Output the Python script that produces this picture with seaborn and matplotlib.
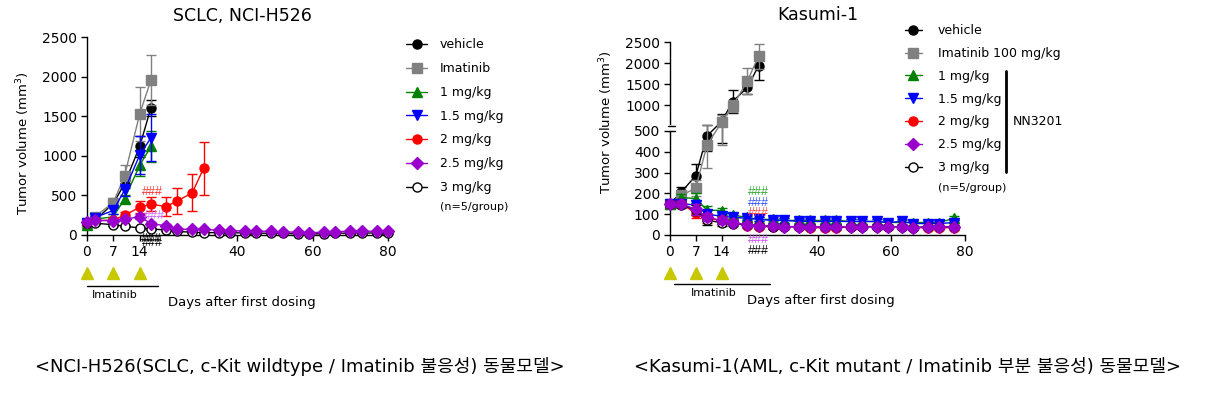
import numpy as np
import pandas as pd
import seaborn as sns
import matplotlib.pyplot as plt
from matplotlib.lines import Line2D

# ---- data ----
groups = ['vehicle', 'Imatinib', '1 mg/kg', '1.5 mg/kg', '2 mg/kg', '2.5 mg/kg', '3 mg/kg']
colors = ['black', '#808080', '#008000', '#0000ff', '#ff0000', '#9900cc', 'black']
markers = ['o', 's', '^', 'v', 'o', 'D', 'o']

# left panel: SCLC, NCI-H526
h526_days_short = [0, 2, 7, 10, 14, 17]
h526_days_red = [0, 2, 7, 10, 14, 17, 21, 24, 28, 31]
h526_days_long = [0, 2, 7, 10, 14, 17, 21, 24, 28, 31, 35, 38, 42, 45, 49, 52, 56, 59, 63, 66, 70, 73, 77, 80]
h526_vehicle = [150, 180, 400, 650, 1120, 1610]
h526_vehicle_err = [20, 20, 40, 60, 130, 100]
h526_imatinib = [150, 230, 410, 750, 1530, 1960]
h526_imatinib_err = [20, 30, 60, 140, 340, 310]
h526_1mg = [130, 200, 230, 460, 880, 1120]
h526_1mg_err = [20, 20, 30, 50, 130, 200]
h526_15mg = [150, 220, 310, 570, 1010, 1230]
h526_15mg_err = [20, 20, 40, 80, 240, 300]
h526_2mg = [150, 180, 190, 250, 350, 390, 360, 430, 535, 845]
h526_2mg_err = [20, 20, 30, 40, 75, 90, 125, 170, 233, 337]
h526_25mg = [160, 185, 180, 200, 230, 145, 115, 75, 70, 70, 60, 55, 50, 50, 45, 40, 35, 30, 35, 40, 50, 50, 45, 50]
h526_25mg_err = [15, 15, 20, 20, 30, 25, 20, 15, 10, 10, 10, 10, 10, 10, 10, 10, 10, 10, 10, 10, 10, 10, 10, 10]
h526_3mg = [150, 150, 130, 110, 90, 75, 65, 45, 35, 30, 30, 30, 25, 25, 20, 20, 15, 15, 15, 20, 25, 25, 25, 25]
h526_3mg_err = [15, 15, 15, 15, 15, 10, 10, 10, 10, 10, 10, 10, 10, 10, 10, 10, 10, 10, 10, 10, 10, 10, 10, 10]

# right panel: Kasumi-1
kas_days_short = [0, 3, 7, 10, 14, 17, 21, 24]
kas_days_long = [0, 3, 7, 10, 14, 17, 21, 24, 28, 31, 35, 38, 42, 45, 49, 52, 56, 59, 63, 66, 70, 73, 77]
kas_vehicle = [150, 205, 285, 475, 620, 1090, 1430, 1940]
kas_vehicle_err = [15, 25, 55, 70, 180, 270, 150, 330]
kas_imatinib = [150, 190, 225, 430, 600, 990, 1580, 2170]
kas_imatinib_err = [15, 20, 40, 110, 170, 150, 300, 300]
kas_1mg = [150, 180, 175, 120, 117, 95, 85, 75, 75, 70, 70, 70, 70, 70, 65, 65, 65, 60, 60, 60, 60, 60, 80]
kas_15mg = [150, 150, 144, 100, 90, 85, 80, 75, 70, 70, 65, 65, 65, 65, 65, 65, 65, 60, 65, 55, 55, 55, 60]
kas_2mg = [150, 150, 105, 80, 70, 60, 45, 40, 40, 40, 40, 35, 35, 35, 40, 40, 40, 40, 40, 35, 35, 35, 35]
kas_25mg = [150, 150, 123, 85, 70, 60, 50, 45, 45, 40, 40, 40, 40, 40, 40, 40, 40, 40, 40, 35, 40, 40, 40]
kas_3mg = [150, 145, 120, 70, 60, 55, 50, 45, 40, 40, 40, 40, 40, 40, 40, 40, 40, 40, 40, 35, 40, 40, 40]
kas_low_err = [15, 15, 25, 20, 15, 12, 10, 10, 10, 10, 10, 10, 10, 10, 10, 10, 10, 10, 10, 10, 10, 10, 10]

dose_days = [0, 7, 14]
h526_imatinib_span = [0, 19]
kas_imatinib_span = [1, 27]

caption_left = '<NCI-H526(SCLC, c-Kit wildtype / Imatinib 불응성) 동물모델>'
caption_right = '<Kasumi-1(AML, c-Kit mutant / Imatinib 부분 불응성) 동물모델>'

sns.set_style('ticks')
plt.rcParams['font.family'] = ['DejaVu Sans', 'Noto Sans CJK KR']
plt.rcParams['mathtext.fontset'] = 'dejavusans'
plt.rcParams['text.color'] = 'black'
plt.rcParams['axes.labelcolor'] = 'black'
plt.rcParams['xtick.color'] = 'black'
plt.rcParams['ytick.color'] = 'black'
plt.rcParams['axes.edgecolor'] = 'black'

fig = plt.figure(figsize=(12.1, 3.95), dpi=100)
W, H = 1210.0, 395.0
ax1 = fig.add_axes([87 / W, 1 - 235 / H, 301 / W, 197.7 / H])
ax2 = fig.add_axes([670 / W, 1 - 235 / H, 295 / W, 192.7 / H])
hash_font = ['Liberation Sans', 'DejaVu Sans']


def draw_series(ax, days, vals, errs, i):
    face = 'white' if groups[i] == '3 mg/kg' else colors[i]
    z = 3 + [0, 0.1, 0.2, 0.3, 0.4, 0.6, 0.5][i]
    ax.errorbar(days, vals, yerr=errs, fmt='none', ecolor=colors[i], elinewidth=1,
                capsize=3.5, capthick=1, clip_on=False, zorder=z)
    sns.lineplot(x=days, y=vals, ax=ax, color=colors[i], marker=markers[i], markersize=6.5,
                 markerfacecolor=face, markeredgecolor=colors[i], markeredgewidth=1,
                 linewidth=1, clip_on=False, zorder=z)


# ---- left panel ----
left_sets = [(h526_days_short, h526_vehicle, h526_vehicle_err),
             (h526_days_short, h526_imatinib, h526_imatinib_err),
             (h526_days_short, h526_1mg, h526_1mg_err),
             (h526_days_short, h526_15mg, h526_15mg_err),
             (h526_days_red, h526_2mg, h526_2mg_err),
             (h526_days_long, h526_25mg, h526_25mg_err),
             (h526_days_long, h526_3mg, h526_3mg_err)]
for i, (d, v, e) in enumerate(left_sets):
    draw_series(ax1, d, v, e, i)
ax1.set_xlim(0, 80)
ax1.set_ylim(0, 2500)
ax1.set_yticks([0, 500, 1000, 1500, 2000, 2500])
ax1.set_xticks([0, 7, 14, 40, 60, 80])

ax1.text(17.5, 545, '###', color='#ff3333', fontsize=9, family=hash_font,
         ha='center', va='center', zorder=10)
ax1.text(17.8, 245, '###', color='#cc66ff', fontsize=9, family=hash_font,
         ha='center', va='center', zorder=10)
ax1.text(17.2, -45, '###', color='black', fontsize=9, family=hash_font, ha='center', va='center')
ax1.text(17.4, -95, '###', color='black', fontsize=9, family=hash_font, ha='center', va='center')

# ---- right panel (broken y axis) ----
def fwd(y):
    y = np.asarray(y, float)
    return np.where(y <= 500, y, 521 + (y - 500) * 0.202)


def inv(t):
    t = np.asarray(t, float)
    return np.where(t <= 500, t, np.where(t < 521, 500, 500 + (t - 521) / 0.202))


right_sets = [(kas_days_short, kas_vehicle, kas_vehicle_err),
              (kas_days_short, kas_imatinib, kas_imatinib_err),
              (kas_days_long, kas_1mg, kas_low_err),
              (kas_days_long, kas_15mg, kas_low_err),
              (kas_days_long, kas_2mg, kas_low_err),
              (kas_days_long, kas_25mg, kas_low_err),
              (kas_days_long, kas_3mg, kas_low_err)]
ax2.set_yscale('function', functions=(fwd, inv))
for i, (d, v, e) in enumerate(right_sets):
    draw_series(ax2, d, v, e, i)
ax2.set_yscale('function', functions=(fwd, inv))
ax2.set_xlim(0, 80)
ax2.set_ylim(0, 2500)
ax2.set_yticks([0, 100, 200, 300, 400, 500, 1000, 1500, 2000, 2500])
ax2.set_xticks([0, 7, 14, 40, 60, 80])

lo = 500 / fwd(2500)
hi = 521 / fwd(2500)
ax2.plot([0, 0], [lo + 0.004, hi - 0.004], transform=ax2.transAxes, color='white', lw=3,
         clip_on=False, zorder=5)
for yb in [lo, hi]:
    ax2.plot([-0.008, 0.017], [yb, yb], transform=ax2.transAxes, color='black', lw=1,
             clip_on=False, zorder=6)

for yv, c in [(205, '#33aa33'), (155, '#3355ff'), (107, '#ff4444'), (-22, '#cc55ee'), (-75, 'black')]:
    ax2.text(24, yv, '###', color=c, fontsize=9, family=hash_font, ha='center', va='center',
             zorder=10)

# ---- shared styling ----
titles = ['SCLC, NCI-H526', 'Kasumi-1']
for ax, title, span, yfr in [(ax1, titles[0], h526_imatinib_span, -0.192),
                             (ax2, titles[1], kas_imatinib_span, -0.197)]:
    sns.despine(ax=ax)
    ax.spines['left'].set_linewidth(1)
    ax.spines['bottom'].set_linewidth(1)
    ax.tick_params(labelsize=10, length=4, width=1, colors='black', pad=3)
    ax.set_xlabel('Days after first dosing', fontsize=9.5)
    ax.set_ylabel('Tumor volume (mm$^3$)', fontsize=9.5)
    ax.plot(dose_days, [yfr] * len(dose_days), transform=ax.get_xaxis_transform(),
            linestyle='none', marker='^', markersize=9, color='#c8c800', clip_on=False)
    ax.plot(span, [-0.256, -0.256], transform=ax.get_xaxis_transform(), color='black',
            lw=1, clip_on=False)
    ax.text(np.mean(span) - 2, -0.302, 'Imatinib', transform=ax.get_xaxis_transform(),
            fontsize=8, ha='center', va='center')

ax1.set_title(titles[0], fontsize=12.5, x=0.518, pad=12)
ax2.set_title(titles[1], fontsize=12.5, pad=16)
ax1.xaxis.set_label_coords(0.515, -0.309)
ax2.xaxis.set_label_coords(0.511, -0.306)
ax1.yaxis.set_label_coords(-0.182, 0.465)
ax2.yaxis.set_label_coords(-0.187, 0.588)

# ---- legends ----
def handles():
    hs = []
    for i, g in enumerate(groups):
        face = 'white' if g == '3 mg/kg' else colors[i]
        hs.append(Line2D([], [], color=colors[i], marker=markers[i], markersize=6.5,
                         markerfacecolor=face, markeredgecolor=colors[i], lw=1))
    return hs


fig.legend(handles(), groups, loc='upper left', bbox_to_anchor=(406 / W, 1 - 38.5 / H),
           frameon=False, fontsize=9, handlelength=1.7, handletextpad=1.0,
           labelspacing=0.86, borderpad=0, borderaxespad=0)
fig.text(440 / W, 1 - 207 / H, '(n=5/group)', fontsize=8, va='center')

labels_right = ['vehicle', 'Imatinib 100 mg/kg'] + groups[2:]
fig.legend(handles(), labels_right, loc='upper left', bbox_to_anchor=(905 / W, 1 - 24 / H),
           frameon=False, fontsize=9, handlelength=1.33, handletextpad=1.3,
           labelspacing=0.79, borderpad=0, borderaxespad=0)
fig.text(938 / W, 1 - 188 / H, '(n=5/group)', fontsize=8, va='center')
fig.add_artist(Line2D([1006 / W, 1006 / W], [1 - 71 / H, 1 - 172 / H], color='black', lw=2))
fig.text(1013 / W, 1 - 121 / H, 'NN3201', fontsize=9, va='center')

# ---- captions ----
fig.text(300 / W, 1 - 367 / H, caption_left, fontsize=13, ha='center', va='center')
fig.text(908 / W, 1 - 367 / H, caption_right, fontsize=13, ha='center', va='center')

fig.savefig('out.png', dpi=100)
